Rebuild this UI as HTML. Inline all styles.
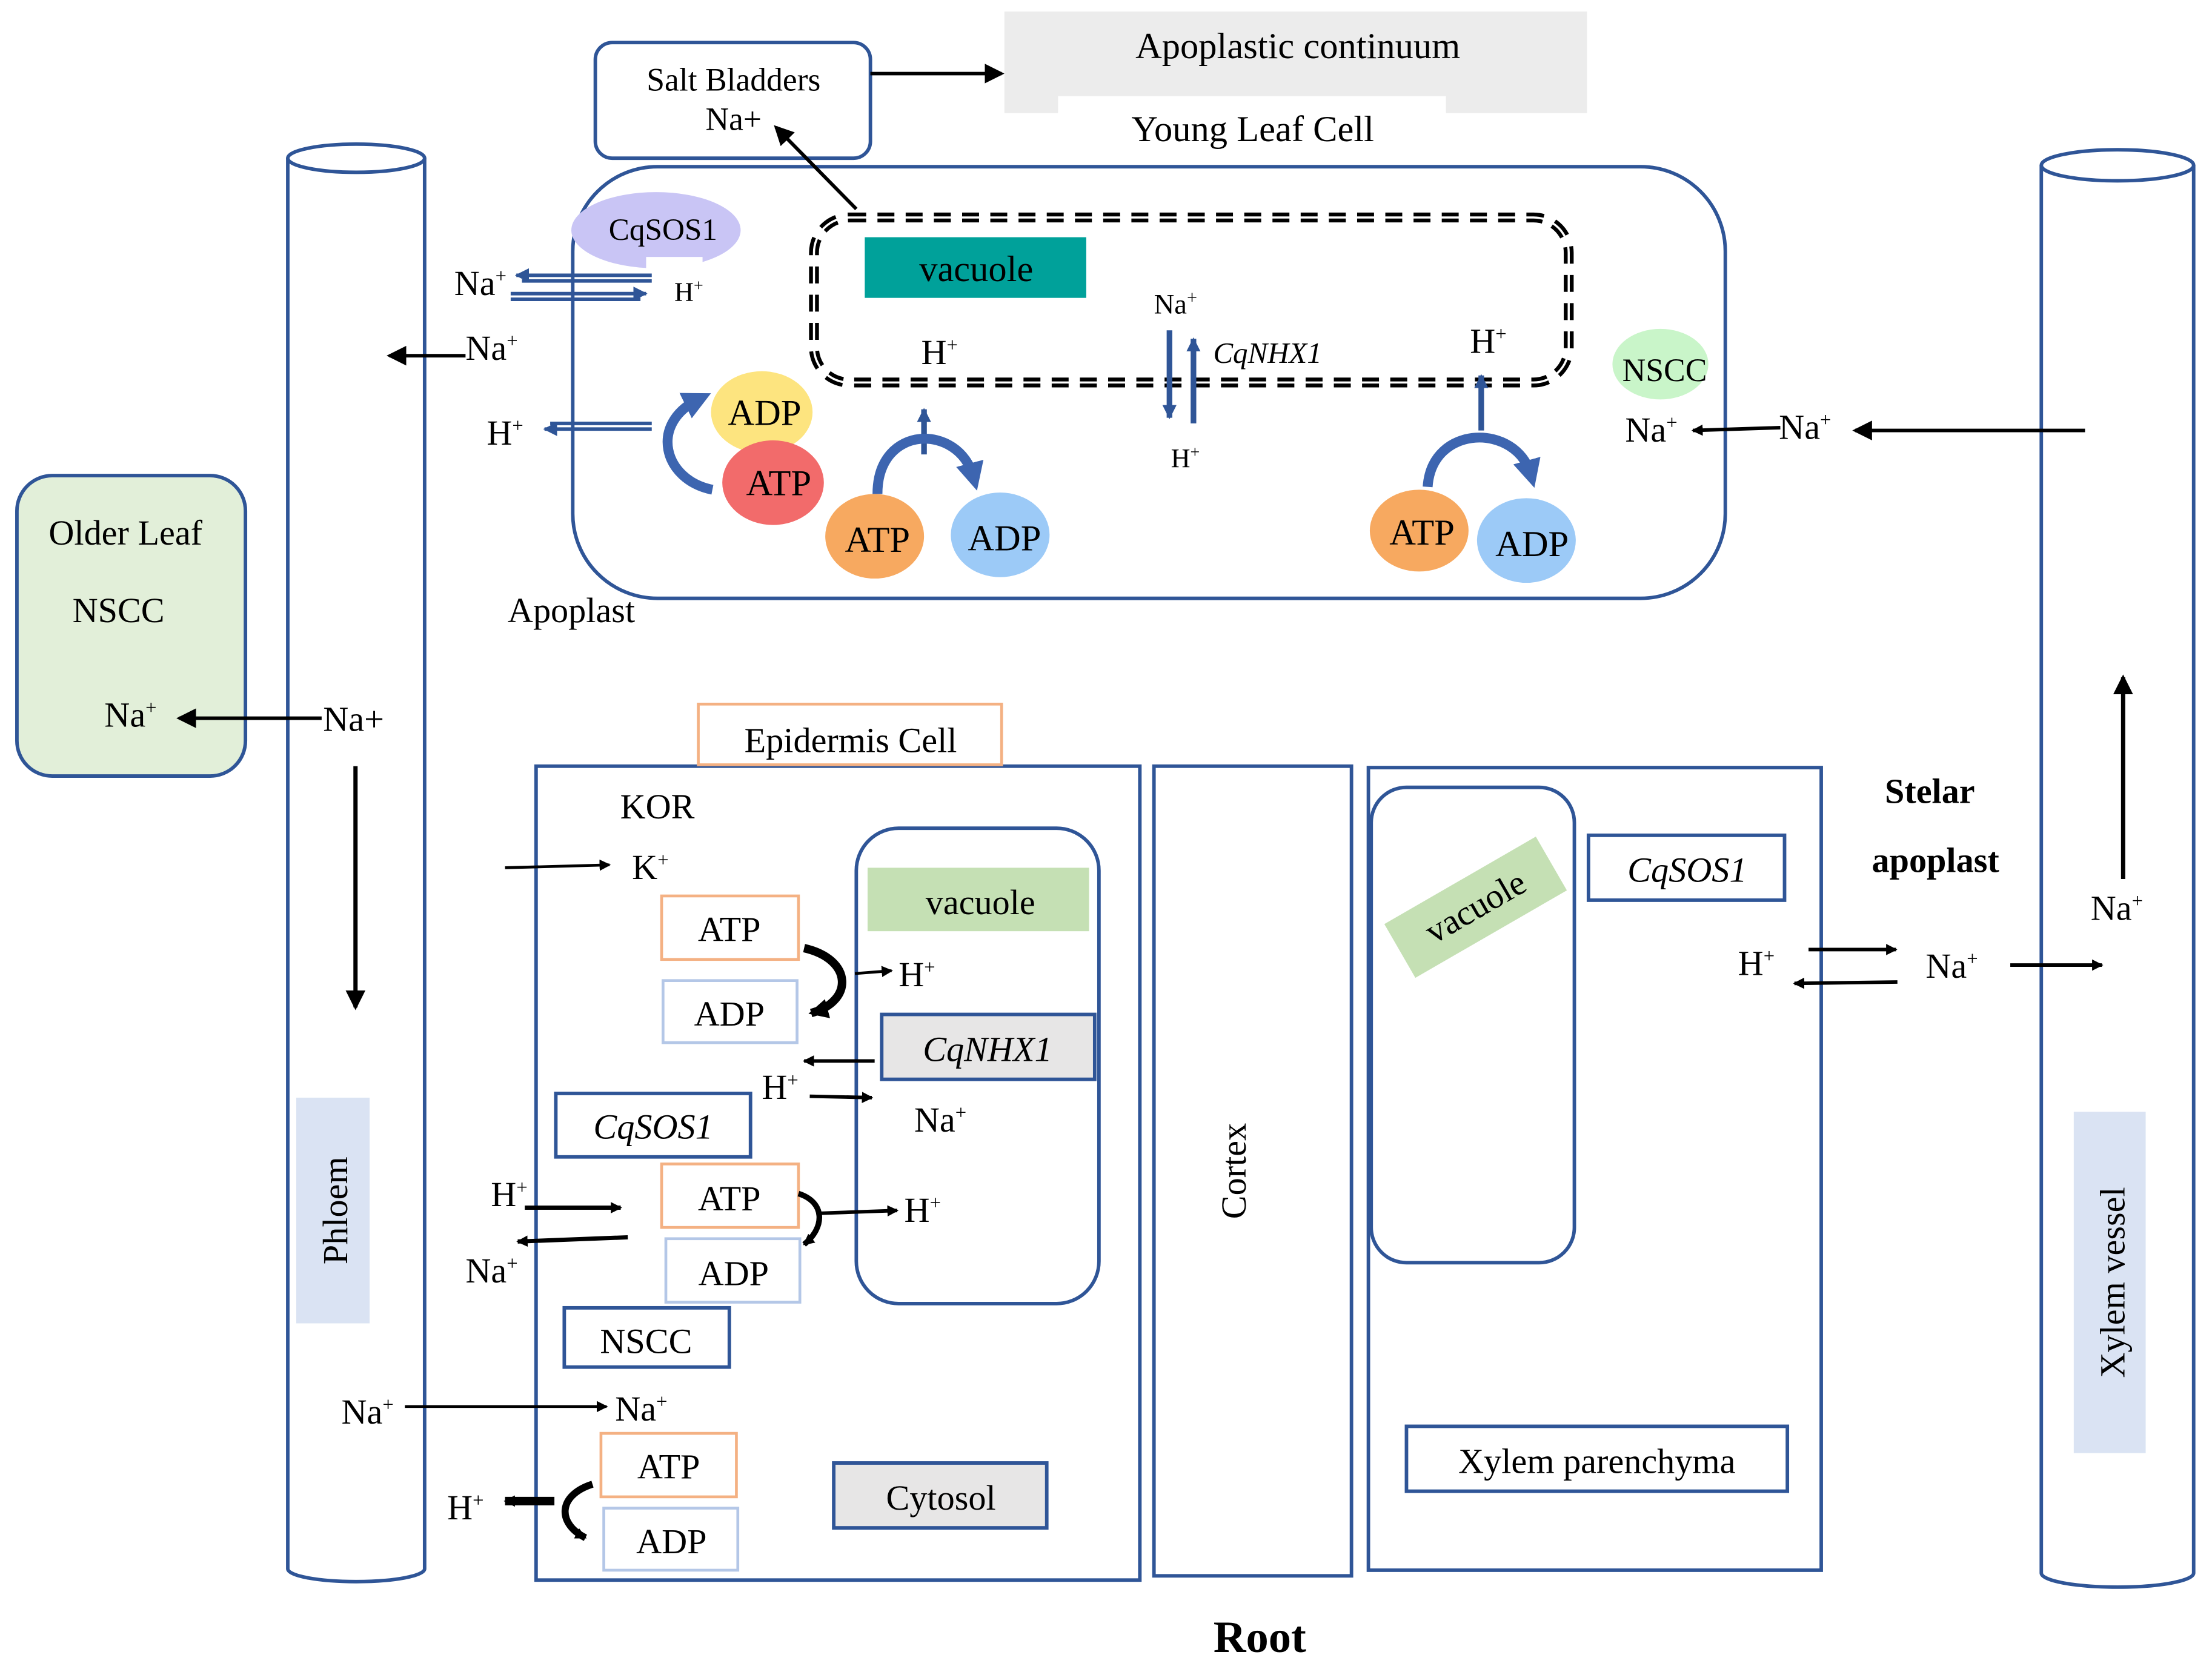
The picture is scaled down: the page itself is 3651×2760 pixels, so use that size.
<!DOCTYPE html>
<html><head><meta charset="utf-8"><style>
html,body{margin:0;padding:0;background:#fff;}
svg{display:block;font-family:"Liberation Serif",serif;}
.c{text-anchor:middle;}
.it{font-style:italic;}
</style></head><body>
<svg width="3651" height="2760" viewBox="0 0 1568 1185" xmlns="http://www.w3.org/2000/svg" font-size="25" font-family="Liberation Serif, serif">
<defs>
<marker id="a" markerWidth="8" markerHeight="8" refX="7" refY="4" orient="auto" markerUnits="userSpaceOnUse" viewBox="0 0 8 8"><path d="M0,0 L8,4 L0,8 Z" fill="#000"/></marker>
<marker id="ab" markerWidth="14" markerHeight="14" refX="12" refY="7" orient="auto" markerUnits="userSpaceOnUse" viewBox="0 0 14 14"><path d="M0,0 L14,7 L0,14 Z" fill="#000"/></marker>
<marker id="b" markerWidth="10" markerHeight="10" refX="9" refY="5" orient="auto" markerUnits="userSpaceOnUse" viewBox="0 0 10 10"><path d="M0,0 L10,5 L0,10 Z" fill="#2f5597"/></marker>
<marker id="bb" markerWidth="20" markerHeight="20" refX="10" refY="10" orient="auto" markerUnits="userSpaceOnUse" viewBox="0 0 20 20"><path d="M0,0 L20,10 L0,20 Z" fill="#3d65b0"/></marker>
</defs>
<g fill="none" stroke="#2f5597" stroke-width="2.5">
<rect x="422" y="30" width="195" height="82" rx="12"/>
<rect x="406" y="118" width="817" height="306" rx="60"/>
<path d="M204,112 V1112 A48,9 0 0 0 301,1112 V112"/>
<ellipse cx="252.5" cy="112" rx="48.5" ry="10" fill="#fff"/>
<path d="M1447,117 V1115 A54,10 0 0 0 1555,1115 V117"/>
<ellipse cx="1501" cy="117" rx="54" ry="11" fill="#fff"/>
<rect x="12" y="337" width="162" height="213" rx="25" fill="#e2efd9"/>
<rect x="380" y="543" width="428" height="577"/>
<rect x="818" y="543" width="140" height="574"/>
<rect x="970" y="544" width="321" height="569"/>
<rect x="972" y="558" width="144" height="337" rx="25"/>
<rect x="607" y="587" width="172" height="337" rx="30"/>
<rect x="1126" y="592" width="139" height="46"/>
<rect x="997" y="1011" width="270" height="46"/>
<rect x="394" y="775" width="138" height="45"/>
<rect x="400" y="927" width="117" height="42"/>
<rect x="625" y="719" width="151" height="46" fill="#e7e6e6"/>
<rect x="591" y="1037" width="151" height="46" fill="#e7e6e6"/>
</g>
<path d="M712,8 H1125 V80 H1025 V68 H750 V80 H712 Z" fill="#ececec"/>
<text class="c" x="920" y="41" font-size="26">Apoplastic continuum</text>
<text class="c" x="888" y="100" font-size="26">Young Leaf Cell</text>
<text class="c" x="520" y="64" font-size="23">Salt Bladders</text>
<text class="c" x="520" y="92" font-size="23">Na+</text>
<g stroke="#000" stroke-width="2.5" fill="none">
<line x1="617" y1="52" x2="710" y2="52" marker-end="url(#ab)"/>
<line x1="607" y1="148" x2="550" y2="90" marker-end="url(#ab)"/>
</g>
<ellipse cx="465" cy="163" rx="60" ry="27" fill="#c9c5f5"/>
<rect x="458" y="182" width="40" height="10" fill="#fff"/>
<text class="c" x="470" y="170" font-size="22">CqSOS1</text>
<g stroke="#2f5597" stroke-width="2.5" fill="none">
<line x1="462" y1="195" x2="366" y2="195" marker-end="url(#b)"/>
<line x1="462" y1="199" x2="370" y2="199"/>
<line x1="362" y1="208" x2="458" y2="208" marker-end="url(#b)"/>
<line x1="362" y1="212" x2="454" y2="212"/>
<line x1="462" y1="304" x2="386" y2="304" marker-end="url(#b)"/>
<line x1="462" y1="300" x2="390" y2="300"/>
</g>
<text x="322" y="209">Na<tspan font-size="14" dy="-9">+</tspan></text>
<text x="478" y="213" font-size="19">H<tspan font-size="12" dy="-7">+</tspan></text>
<line x1="330" y1="252" x2="276" y2="252" stroke="#000" stroke-width="2.5" marker-end="url(#ab)"/>
<text x="330" y="255">Na<tspan font-size="14" dy="-9">+</tspan></text>
<text x="345" y="315">H<tspan font-size="14" dy="-9">+</tspan></text>
<ellipse cx="540" cy="292" rx="36" ry="29" fill="#fde47f"/>
<ellipse cx="548" cy="342" rx="36" ry="30" fill="#f26b6b"/>
<text class="c" x="542" y="301" font-size="26">ADP</text>
<text class="c" x="552" y="351" font-size="26">ATP</text>
<path d="M505,347 C470,340 460,300 495,283" stroke="#3d65b0" stroke-width="7" fill="none" marker-end="url(#bb)"/>
<rect x="577" y="154" width="535" height="117" rx="25" fill="none" stroke="#000" stroke-width="7" stroke-dasharray="12,8"/>
<rect x="577" y="154" width="535" height="117" rx="25" fill="none" stroke="#fff" stroke-width="1.5"/>
<rect x="613" y="168" width="157" height="43" fill="#00a19a"/>
<text class="c" x="692" y="199" font-size="26">vacuole</text>
<text x="653" y="258">H<tspan font-size="14" dy="-9">+</tspan></text>
<line x1="655" y1="322" x2="655" y2="290" stroke="#2f5597" stroke-width="4" marker-end="url(#b)"/>
<path d="M622,350 C622,300 680,300 690,338" stroke="#3d65b0" stroke-width="7" fill="none" marker-end="url(#bb)"/>
<ellipse cx="620" cy="380" rx="35" ry="30" fill="#f7a960"/>
<ellipse cx="709" cy="379" rx="35" ry="30" fill="#9ccaf7"/>
<text class="c" x="622" y="391" font-size="26">ATP</text>
<text class="c" x="712" y="390" font-size="26">ADP</text>
<text x="818" y="222" font-size="20">Na<tspan font-size="13" dy="-7">+</tspan></text>
<g stroke="#2f5597" stroke-width="4">
<line x1="829" y1="234" x2="829" y2="296" marker-end="url(#b)"/>
<line x1="846" y1="300" x2="846" y2="240" marker-end="url(#b)"/>
</g>
<text class="it" x="860" y="257" font-size="21">CqNHX1</text>
<text x="830" y="331" font-size="19">H<tspan font-size="12" dy="-7">+</tspan></text>
<text x="1042" y="250">H<tspan font-size="14" dy="-9">+</tspan></text>
<line x1="1050" y1="305" x2="1050" y2="266" stroke="#2f5597" stroke-width="4" marker-end="url(#b)"/>
<path d="M1012,345 C1015,300 1075,300 1085,336" stroke="#3d65b0" stroke-width="7" fill="none" marker-end="url(#bb)"/>
<ellipse cx="1006" cy="376" rx="35" ry="29" fill="#f7a960"/>
<ellipse cx="1082" cy="383" rx="35" ry="30" fill="#9ccaf7"/>
<text class="c" x="1008" y="386" font-size="26">ATP</text>
<text class="c" x="1086" y="394" font-size="26">ADP</text>
<ellipse cx="1177" cy="258" rx="34" ry="25" fill="#c9f5c9"/>
<text class="c" x="1180" y="270" font-size="23">NSCC</text>
<text x="1152" y="313">Na<tspan font-size="14" dy="-9">+</tspan></text>
<text x="1261" y="311">Na<tspan font-size="14" dy="-9">+</tspan></text>
<g stroke="#000" stroke-width="2.5" fill="none">
<line x1="1262" y1="303" x2="1200" y2="305" marker-end="url(#a)"/>
<line x1="1478" y1="305" x2="1315" y2="305" marker-end="url(#ab)"/>
</g>
<text class="c" x="405" y="441">Apoplast</text>
<text class="c" x="89" y="386">Older Leaf</text>
<text class="c" x="84" y="441">NSCC</text>
<text x="74" y="515">Na<tspan font-size="14" dy="-9">+</tspan></text>
<line x1="228" y1="509" x2="127" y2="509" stroke="#000" stroke-width="2.5" marker-end="url(#ab)"/>
<text x="229" y="518">Na+</text>
<line x1="252" y1="543" x2="252" y2="714" stroke="#000" stroke-width="3" marker-end="url(#ab)"/>
<rect x="210" y="778" width="52" height="160" fill="#dae3f3"/>
<text class="c" transform="translate(246,858) rotate(-90)">Phloem</text>
<rect x="495" y="499" width="215" height="43" fill="#fff" stroke="#f4b183" stroke-width="2"/>
<text class="c" x="603" y="533">Epidermis Cell</text>
<text class="c" x="466" y="580">KOR</text>
<line x1="358" y1="615" x2="432" y2="613" stroke="#000" stroke-width="2" marker-end="url(#a)"/>
<text x="448" y="623">K<tspan font-size="14" dy="-9">+</tspan></text>
<rect x="615" y="615" width="157" height="45" fill="#c5e0b4"/>
<text class="c" x="695" y="648">vacuole</text>
<g fill="none" stroke-width="2">
<rect x="469" y="635" width="97" height="45" stroke="#f4b183"/>
<rect x="470" y="695" width="95" height="44" stroke="#b4c7e7"/>
<rect x="469" y="825" width="97" height="45" stroke="#f4b183"/>
<rect x="472" y="878" width="95" height="45" stroke="#b4c7e7"/>
<rect x="426" y="1016" width="96" height="45" stroke="#f4b183"/>
<rect x="428" y="1069" width="95" height="44" stroke="#b4c7e7"/>
</g>
<text class="c" x="517" y="667">ATP</text>
<text class="c" x="517" y="727">ADP</text>
<text class="c" x="517" y="858">ATP</text>
<text class="c" x="520" y="911">ADP</text>
<text class="c" x="474" y="1048">ATP</text>
<text class="c" x="476" y="1101">ADP</text>
<g stroke="#000" fill="none">
<path d="M570,672 C605,680 605,710 575,718" stroke-width="6" marker-end="url(#ab)"/>
<path d="M566,846 C585,852 585,870 570,882" stroke-width="4" marker-end="url(#a)"/>
<path d="M420,1052 C395,1060 395,1080 415,1090" stroke-width="5" marker-end="url(#a)"/>
<line x1="606" y1="690" x2="632" y2="688" stroke-width="2" marker-end="url(#a)"/>
<line x1="620" y1="752" x2="570" y2="752" stroke-width="2.5" marker-end="url(#a)"/>
<line x1="574" y1="777" x2="618" y2="778" stroke-width="2.5" marker-end="url(#a)"/>
<line x1="372" y1="856" x2="440" y2="856" stroke-width="3" marker-end="url(#a)"/>
<line x1="445" y1="877" x2="367" y2="880" stroke-width="3" marker-end="url(#a)"/>
<line x1="580" y1="860" x2="636" y2="858" stroke-width="2.5" marker-end="url(#a)"/>
<line x1="287" y1="997" x2="430" y2="997" stroke-width="2" marker-end="url(#a)"/>
<line x1="393" y1="1064" x2="358" y2="1064" stroke-width="6" marker-end="url(#a)"/>
</g>
<text x="637" y="699">H<tspan font-size="14" dy="-9">+</tspan></text>
<text class="c it" x="700" y="752">CqNHX1</text>
<text x="540" y="779">H<tspan font-size="14" dy="-9">+</tspan></text>
<text x="648" y="802">Na<tspan font-size="14" dy="-9">+</tspan></text>
<text class="c it" x="463" y="807">CqSOS1</text>
<text x="348" y="855">H<tspan font-size="14" dy="-9">+</tspan></text>
<text x="330" y="909">Na<tspan font-size="14" dy="-9">+</tspan></text>
<text x="641" y="866">H<tspan font-size="14" dy="-9">+</tspan></text>
<text class="c" x="458" y="959">NSCC</text>
<text x="242" y="1009">Na<tspan font-size="14" dy="-9">+</tspan></text>
<text x="436" y="1007">Na<tspan font-size="14" dy="-9">+</tspan></text>
<text x="317" y="1077">H<tspan font-size="14" dy="-9">+</tspan></text>
<text class="c" x="667" y="1070">Cytosol</text>
<text class="c" transform="translate(883,830) rotate(-90)">Cortex</text>
<g transform="translate(1046,643) rotate(-30)">
<rect x="-62" y="-22" width="124" height="44" fill="#c5e0b4"/>
<text class="c" x="0" y="8">vacuole</text>
</g>
<text class="c it" x="1196" y="625">CqSOS1</text>
<text class="c" x="1132" y="1044">Xylem parenchyma</text>
<text class="c" x="1368" y="569" font-weight="bold">Stelar</text>
<text class="c" x="1372" y="618" font-weight="bold">apoplast</text>
<text x="1232" y="691">H<tspan font-size="14" dy="-9">+</tspan></text>
<g stroke="#000" stroke-width="2.5">
<line x1="1282" y1="673" x2="1344" y2="673" marker-end="url(#a)"/>
<line x1="1345" y1="696" x2="1272" y2="697" marker-end="url(#a)"/>
<line x1="1425" y1="684" x2="1490" y2="684" marker-end="url(#a)"/>
<line x1="1505" y1="623" x2="1505" y2="480" stroke-width="3" marker-end="url(#ab)"/>
</g>
<text x="1365" y="693">Na<tspan font-size="14" dy="-9">+</tspan></text>
<text x="1482" y="652">Na<tspan font-size="14" dy="-9">+</tspan></text>
<rect x="1470" y="788" width="51" height="242" fill="#dae3f3"/>
<text class="c" transform="translate(1506,909) rotate(-90)">Xylem vessel</text>
<text class="c" x="893" y="1171" font-size="32" font-weight="bold">Root</text>
</svg>
</body></html>
